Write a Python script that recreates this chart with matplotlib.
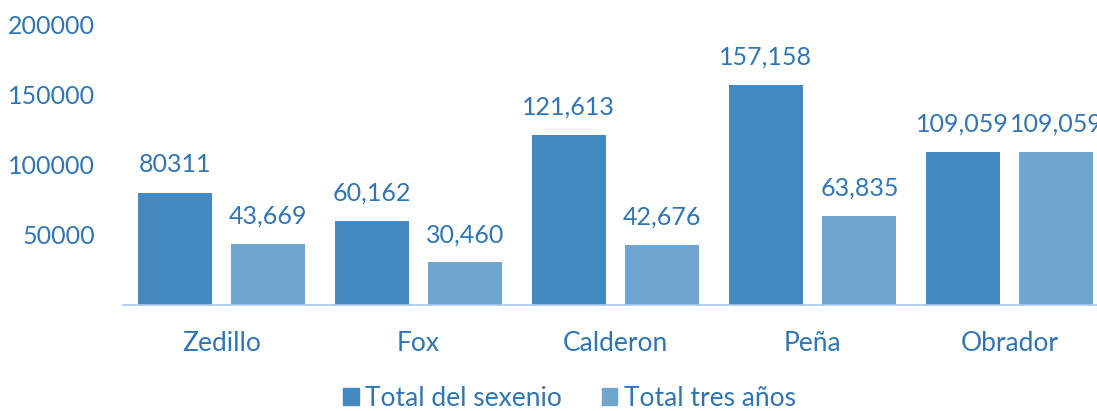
import numpy as np
import matplotlib.pyplot as plt
from matplotlib.patches import Patch

presidents = ["Zedillo", "Fox", "Calderon", "Peña", "Obrador"]
total_sexenio = [80311, 60162, 121613, 157158, 109059]
total_tres = [43669, 30460, 42676, 63835, 109059]
labels_sexenio = ["80311", "60,162", "121,613", "157,158", "109,059"]
labels_tres = ["43,669", "30,460", "42,676", "63,835", "109,059"]
yticks = [50000, 100000, 150000, 200000]

dark = "#4489C0"
light = "#6FA6D0"
txt = "#2F75B5"

plt.rcParams['font.family'] = ['Lato', 'DejaVu Sans']

fig = plt.figure(figsize=(10.97, 4.11), dpi=100)
ax = fig.add_axes([123/1097, 106/411, 985/1097, 280/411])

x = np.arange(len(presidents))
w = 0.376
off = 0.238
b1 = ax.bar(x - off, total_sexenio, w, color=dark)
b2 = ax.bar(x + off, total_tres, w, color=light)

for bars, labs in [(b1, labels_sexenio), (b2, labels_tres)]:
    for r, lab in zip(bars, labs):
        ax.annotate(lab, (r.get_x() + r.get_width()/2, r.get_height()),
                    xytext=(0, 20), textcoords="offset points",
                    ha="center", va="center", fontsize=18, color=txt)

ax.set_xlim(-0.5, 4.5)
ax.set_ylim(0, 200000)
ax.set_yticks(yticks)
ax.set_yticklabels([str(v) for v in yticks])
ax.set_xticks(x)
ax.set_xticklabels(presidents)
ax.tick_params(axis="y", length=0, pad=20, labelsize=18, labelcolor=txt)
ax.tick_params(axis="x", length=0, pad=19, labelsize=19, labelcolor=txt)
for s in ["top", "right", "left"]:
    ax.spines[s].set_visible(False)
ax.spines["bottom"].set_color("#A9C8E6")
ax.spines["bottom"].set_linewidth(1.2)

handles = [Patch(color=dark, label="Total del sexenio"),
           Patch(color=light, label="Total tres años")]
leg = fig.legend(handles=handles, loc="center", bbox_to_anchor=(0.519, 13/411),
                 ncol=2, frameon=False, fontsize=19, handlelength=0.6,
                 handleheight=0.6, handletextpad=0.25, columnspacing=1.5)
for t in leg.get_texts():
    t.set_color(txt)

fig.savefig("out.png", dpi=100)
